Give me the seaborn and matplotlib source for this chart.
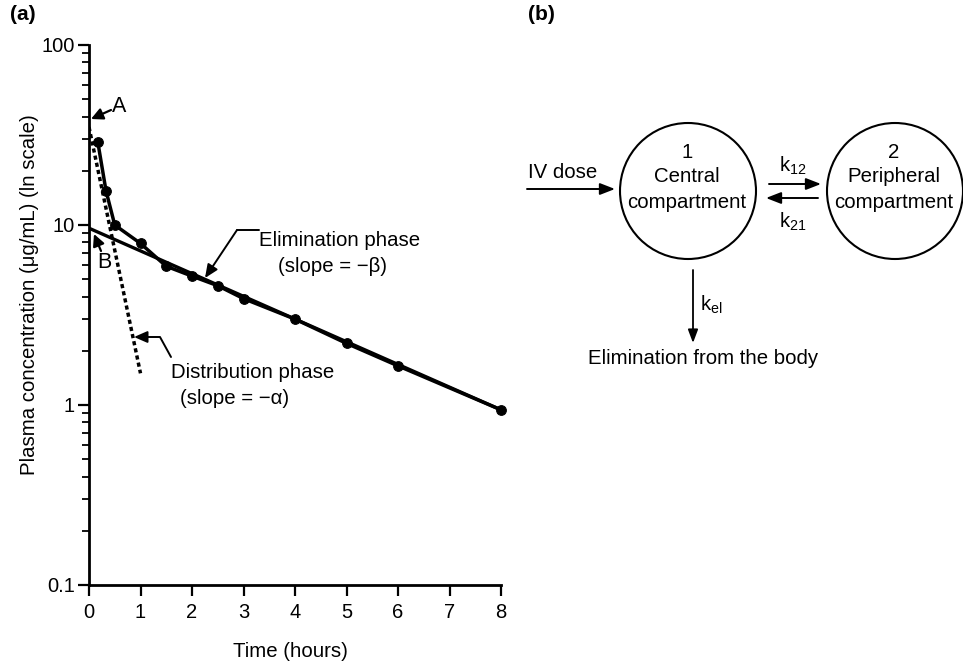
import numpy as np
import pandas as pd
import matplotlib
matplotlib.use("Agg")
import matplotlib.pyplot as plt
import seaborn as sns
from matplotlib.patches import Circle

# ---------------- data ----------------
time_h = [0.17, 0.33, 0.5, 1.0, 1.5, 2.0, 2.5, 3.0, 4.0, 5.0, 6.0, 8.0]
conc = [29.0, 15.5, 10.0, 7.9, 5.9, 5.2, 4.6, 3.9, 3.0, 2.2, 1.65, 0.94]
elim_t = [0.0, 8.0]
elim_c = [9.6, 0.94]
dist_t = [0.0, 1.0]
dist_c = [35.0, 1.5]
x_ticks = [0, 1, 2, 3, 4, 5, 6, 7, 8]
y_ticks = [0.1, 1, 10, 100]
y_ticklabels = ["0.1", "1", "10", "100"]

df = pd.DataFrame({"t": time_h, "c": conc})

sns.set_style("ticks")
plt.rcParams["font.family"] = ["Liberation Sans", "DejaVu Sans"]
plt.rcParams["mathtext.fontset"] = "custom"
plt.rcParams["mathtext.rm"] = "Liberation Sans"
plt.rcParams["mathtext.it"] = "Liberation Sans"
plt.rcParams["text.color"] = "black"
plt.rcParams["axes.labelcolor"] = "black"

FS = 14.7
W, H = 963, 666
fig = plt.figure(figsize=(W / 100, H / 100), dpi=100)
ax = fig.add_axes([89 / W, 1 - 585 / H, (501 - 89) / W, (585 - 45) / H])

# lines
ax.plot(elim_t, elim_c, color="black", lw=2.4, solid_capstyle="butt", zorder=3)
ax.plot(dist_t, dist_c, color="black", lw=2.5, linestyle=(0, (1.2, 0.9)), zorder=3)
sns.lineplot(data=df, x="t", y="c", ax=ax, color="black", lw=2.5,
             marker="o", markersize=7, markeredgecolor="black", zorder=4, clip_on=False)

ax.set_yscale("log")
ax.set_xlim(0, 8)
ax.set_ylim(0.1, 100)
ax.set_xticks(x_ticks)
ax.set_xticklabels([str(v) for v in x_ticks])
ax.set_yticks(y_ticks)
ax.set_yticklabels(y_ticklabels)
ax.yaxis.set_minor_locator(matplotlib.ticker.LogLocator(base=10, subs=np.arange(2, 10)))
ax.yaxis.set_minor_formatter(matplotlib.ticker.NullFormatter())
ax.tick_params(axis="both", which="major", direction="out", length=8, width=1.6,
               labelsize=14.5, colors="black")
ax.tick_params(axis="x", which="major", pad=5)
ax.tick_params(axis="y", which="major", pad=2)
ax.tick_params(axis="y", which="minor", direction="out", length=5, width=1.3, colors="black")
for s in ["top", "right"]:
    ax.spines[s].set_visible(False)
for s in ["left", "bottom"]:
    ax.spines[s].set_linewidth(2.0)
    ax.spines[s].set_color("black")
ax.set_xlabel("Time (hours)", fontsize=FS, color="black")
ax.set_ylabel("Plasma concentration (\u03bcg/mL) (ln scale)", fontsize=FS, color="black")
ax.xaxis.set_label_coords((290.5 - 89) / 412, (585 - 642) / 540)
ax.yaxis.set_label_coords((39 - 89) / 412, (585 - 295) / 540)

# ---------------- overlay in pixel coordinates ----------------
ov = fig.add_axes([0, 0, 1, 1], zorder=5)
ov.set_xlim(0, W)
ov.set_ylim(H, 0)
ov.axis("off")
ov.patch.set_alpha(0)

def arrow(x0, y0, x1, y1, lw=1.5, hw=5, hl=9):
    ov.annotate("", xy=(x1, y1), xytext=(x0, y0),
                arrowprops=dict(arrowstyle=f"-|>,head_width={hw/10:.2f},head_length={hl/10:.2f}",
                                color="black", lw=lw, shrinkA=0, shrinkB=0))

def txt(x, y, s, size=FS, ha="center", weight="normal"):
    ov.text(x, y, s, fontsize=size, ha=ha, va="center", color="black", fontweight=weight)

# panel labels
txt(23, 15, "(a)", size=15, weight="bold")
txt(541, 15, "(b)", size=15, weight="bold")

# A and B
txt(119, 107, "A", size=15.5)
arrow(111, 110, 91, 119, lw=1.6, hw=3.5, hl=7)
txt(104, 263, "B", size=15.5)
arrow(101, 251, 94, 234, lw=1.6, hw=3.5, hl=7)

# elimination phase
txt(340, 240, "Elimination phase", size=FS)
txt(333, 267, "(slope = \u2212\u03b2)", size=FS)
ov.plot([259, 237], [230, 230], color="black", lw=1.4)
arrow(237, 230, 205, 278, lw=1.4, hw=3.5, hl=8)

# distribution phase
txt(253, 373, "Distribution phase", size=FS)
txt(235, 398, "(slope = \u2212\u03b1)", size=FS)
ov.plot([171, 160, 146], [357, 337, 337], color="black", lw=1.4)
arrow(146, 337, 134, 337, lw=1.4, hw=3.5, hl=8)

# ---------------- panel (b) diagram ----------------
for cx in (688, 895):
    ov.add_patch(Circle((cx, 191), 68, fill=False, edgecolor="black", lw=1.5))
txt(687, 152, "1", size=FS)
txt(687, 177, "Central", size=FS)
txt(687, 202, "compartment", size=FS)
txt(894, 152, "2", size=FS)
txt(894, 177, "Peripheral", size=FS)
txt(894, 202, "compartment", size=FS)

txt(563, 173, "IV dose", size=FS)
arrow(527, 189, 615, 189, lw=1.4, hw=3.5, hl=9)

arrow(769, 184, 821, 184, lw=1.4, hw=3.5, hl=9)
arrow(818, 198, 766, 198, lw=1.4, hw=3.5, hl=9)
txt(793, 166, r"k$_{12}$", size=FS)
txt(793, 222, r"k$_{21}$", size=FS)

arrow(693, 270, 693, 343, lw=1.3, hw=3.0, hl=8)
txt(700, 305, r"k$_{\mathrm{el}}$", size=FS, ha="left")
txt(703, 358, "Elimination from the body", size=FS)

fig.savefig("out.png", dpi=100)
